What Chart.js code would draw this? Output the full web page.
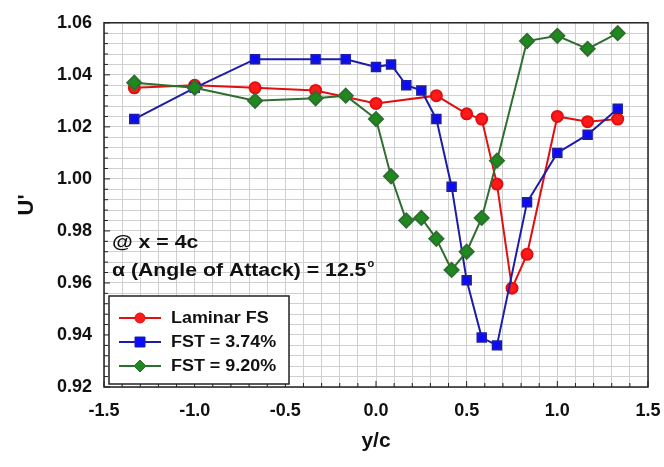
<!DOCTYPE html>
<html>
<head>
<meta charset="utf-8">
<script src="https://cdn.jsdelivr.net/npm/chart.js@4/dist/chart.umd.min.js"></script>
<style>
  html, body { margin: 0; padding: 0; background: #fff; }
  #wrap { width: 664px; height: 467px; }
</style>
</head>
<body>
<div id="wrap"><canvas id="uChart"></canvas></div>
<script>
// data (y/c vs U')
const laminarX = [-1.333, -1.0, -0.667, -0.333, 0.0, 0.333, 0.5, 0.583, 0.667, 0.75, 0.833, 1.0, 1.167, 1.333];
const laminarU = [1.035, 1.036, 1.035, 1.034, 1.029, 1.032, 1.025, 1.023, 0.998, 0.958, 0.971, 1.024, 1.022, 1.023];

const fst374X = [-1.333, -1.0, -0.667, -0.333, -0.167, 0.0, 0.083, 0.167, 0.25, 0.333, 0.417, 0.5, 0.583, 0.667, 0.833, 1.0, 1.167, 1.333];
const fst374U = [1.023, 1.035, 1.046, 1.046, 1.046, 1.043, 1.044, 1.036, 1.034, 1.023, 0.997, 0.961, 0.939, 0.936, 0.991, 1.010, 1.017, 1.027];

const fst920X = [-1.333, -1.0, -0.667, -0.333, -0.167, 0.0, 0.083, 0.167, 0.25, 0.333, 0.417, 0.5, 0.583, 0.667, 0.833, 1.0, 1.167, 1.333];
const fst920U = [1.037, 1.035, 1.030, 1.031, 1.032, 1.023, 1.001, 0.984, 0.985, 0.977, 0.965, 0.972, 0.985, 1.007, 1.053, 1.055, 1.050, 1.056];

const seriesNames = ["Laminar FS", "FST = 3.74%", "FST = 9.20%"];
const xTickLabels = ["-1.5", "-1.0", "-0.5", "0.0", "0.5", "1.0", "1.5"];
const yTickLabels = ["0.92", "0.94", "0.96", "0.98", "1.00", "1.02", "1.04", "1.06"];

const FONT = "'Liberation Sans', Arial, sans-serif";

function pairs(xs, ys) {
    return xs.map((x, i) => ({ x: x, y: ys[i] }));
}

// text drawn a bit wider, like the original figure
function wideText(c, txt, x, y, sx) {
    c.save();
    c.translate(x, y);
    c.scale(sx, 1);
    c.fillText(txt, 0, 0);
    c.restore();
    return c.measureText(txt).width * sx;
}

// frame, annotations and legend box
const extras = {
    id: "extras",
    afterDraw(chart) {
        const c = chart.ctx;
        const a = chart.chartArea;
        c.save();
        c.strokeStyle = "#222";
        c.lineWidth = 1.5;
        c.strokeRect(a.left, a.top, a.right - a.left, a.bottom - a.top);

        // small inside tick marks
        c.lineWidth = 1;
        const ys = chart.scales.y, xs = chart.scales.x;
        for (let v = 0.92; v <= 1.0601; v += 0.004) {
            const py = ys.getPixelForValue(v);
            const major = Math.round(v * 1000) % 20 === 0;
            c.beginPath(); c.moveTo(a.left, py); c.lineTo(a.left + (major ? 6 : 4), py); c.stroke();
        }
        for (let v = -1.5; v <= 1.5001; v += 0.1) {
            const px = xs.getPixelForValue(v);
            const major = Math.round(v * 10) % 5 === 0;
            c.beginPath(); c.moveTo(px, a.bottom); c.lineTo(px, a.bottom - (major ? 6 : 4)); c.stroke();
        }

        // annotation text
        c.fillStyle = "#111";
        c.font = "bold 18px " + FONT;
        c.textBaseline = "alphabetic";
        wideText(c, "@ x = 4c", 112, 248, 1.18);
        const w = wideText(c, "\u03b1 (Angle of Attack) = 12.5", 112, 276, 1.18);
        c.font = "bold 11px " + FONT;
        c.fillText("o", 112 + w + 1, 267);

        // legend
        const lx = 109, ly = 296, lw = 180, lh = 88;
        c.fillStyle = "#fff";
        c.fillRect(lx, ly, lw, lh);
        c.strokeStyle = "#222";
        c.lineWidth = 1.5;
        c.strokeRect(lx, ly, lw, lh);
        chart.data.datasets.forEach((ds, i) => {
            const yy = ly + 22 + i * 24;
            c.strokeStyle = ds.borderColor;
            c.lineWidth = 2;
            c.beginPath(); c.moveTo(119, yy); c.lineTo(161, yy); c.stroke();
            c.fillStyle = ds.pointBackgroundColor;
            c.strokeStyle = ds.pointBorderColor;
            c.lineWidth = 1;
            c.beginPath();
            if (ds.pointStyle === "circle") {
                c.arc(140, yy, 5, 0, Math.PI * 2);
            } else if (ds.pointStyle === "rect") {
                c.rect(135, yy - 5, 10, 10);
            } else {
                c.moveTo(140, yy - 6); c.lineTo(146, yy); c.lineTo(140, yy + 6); c.lineTo(134, yy);
                c.closePath();
            }
            c.fill(); c.stroke();
            c.fillStyle = "#111";
            c.font = "bold 16px " + FONT;
            c.textBaseline = "middle";
            wideText(c, ds.label, 171, yy + 1, 1.12);
        });
        c.restore();
    }
};

const ctx = document.getElementById("uChart").getContext("2d");
const uChart = new Chart(ctx, {
    type: "scatter",
    data: {
        datasets: [
            {
                label: seriesNames[0],
                data: pairs(laminarX, laminarU),
                showLine: true,
                borderColor: "#e01010",
                borderWidth: 2,
                pointStyle: "circle",
                pointRadius: 5.5,
                pointBackgroundColor: "#ff1a1a",
                pointBorderColor: "#e01010",
                order: 3,
            },
            {
                label: seriesNames[1],
                data: pairs(fst374X, fst374U),
                showLine: true,
                borderColor: "#1c1ca8",
                borderWidth: 2,
                pointStyle: "rect",
                pointRadius: 6,
                pointBackgroundColor: "#0a0aff",
                pointBorderColor: "#1c1ca8",
                order: 2,
            },
            {
                label: seriesNames[2],
                data: pairs(fst920X, fst920U),
                showLine: true,
                borderColor: "#2e6e2e",
                borderWidth: 2,
                pointStyle: "rectRot",
                pointRadius: 7,
                pointBackgroundColor: "#1e8a1e",
                pointBorderColor: "#2e6e2e",
                order: 1,
            },
        ],
    },
    options: {
        responsive: true,
        maintainAspectRatio: false,
        animation: false,
        layout: { padding: { top: 18, right: 16, left: 0, bottom: 9 } },
        plugins: {
            legend: { display: false },
            tooltip: { enabled: false },
        },
        scales: {
            x: {
                type: "linear",
                min: -1.5,
                max: 1.5,
                afterFit: (s) => {
                    s.height = 71;
                    s.paddingLeft = 0;
                    s.paddingRight = 0;
                },
                ticks: {
                    stepSize: 0.1,
                    autoSkip: false,
                    maxRotation: 0,
                    padding: 13,
                    color: "#111",
                    font: { family: FONT, size: 18, weight: "bold" },
                    callback: (v) => {
                        const k = Math.round(v * 10);
                        return k % 5 === 0 ? xTickLabels[(k + 15) / 5] : "";
                    },
                },
                grid: { color: "#cfcfcf", lineWidth: 1, drawTicks: false },
                border: { display: false },
                title: {
                    display: true,
                    text: "y/c",
                    color: "#111",
                    font: { family: FONT, size: 21, weight: "bold" },
                    padding: { top: 10 },
                },
            },
            y: {
                type: "linear",
                min: 0.92,
                max: 1.06,
                afterFit: (s) => { s.width = 104; },
                ticks: {
                    stepSize: 0.004,
                    autoSkip: false,
                    padding: 12,
                    color: "#111",
                    font: { family: FONT, size: 18, weight: "bold" },
                    callback: (v) => {
                        const k = Math.round(v * 1000);
                        return k % 20 === 0 ? yTickLabels[(k - 920) / 20] : "";
                    },
                },
                grid: { color: "#cfcfcf", lineWidth: 1, drawTicks: false },
                border: { display: false },
                title: {
                    display: true,
                    text: "U'",
                    color: "#111",
                    font: { family: FONT, size: 22, weight: "bold" },
                    padding: { top: 14, bottom: 10 },
                },
            },
        },
    },
    plugins: [extras],
});
</script>
</body>
</html>
